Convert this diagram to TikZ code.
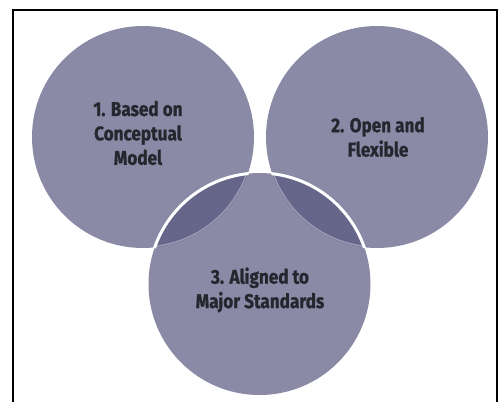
\documentclass[tikz,border=0pt]{standalone}
\usepackage{fontspec}
\newfontfamily\lblfont[FakeStretch=0.86,BoldFeatures={FakeBold=0.8}]{Fira Sans}
\definecolor{circfill}{HTML}{8A89A6}
\definecolor{lensfill}{HTML}{66658A}
\definecolor{lensedge}{HTML}{9A99B4}
\definecolor{txt}{HTML}{26262E}
\begin{document}
\begin{tikzpicture}[x=1bp,y=-1bp,
  lbl/.style={font=\lblfont\bfseries\fontsize{20}{24.5}\selectfont, text=txt, align=center, inner sep=0pt}]
\useasboundingbox (0,0) rectangle (501,401);
\begin{scope}
\clip (0,0) rectangle (501,401);
\draw[line width=1.3bp, black] (13,10) rectangle (497,420);
\end{scope}
% circles
\fill[circfill] (143,137) circle (111);
\fill[circfill] (377,137) circle (111);
\fill[circfill] (259.5,284) circle (111);
% lenses
\begin{scope}
\clip (259.5,284) circle (111);
\fill[lensfill] (143,137) circle (111);
\fill[lensfill] (377,137) circle (111);
\draw[lensedge, line width=1.5bp] (143,137) circle (110);
\draw[lensedge, line width=1.5bp] (377,137) circle (110);
\end{scope}
% white rim of circle 3 inside circles 1 and 2
\begin{scope}
\clip (143,137) circle (112);
\draw[white, line width=3bp] (259.5,284) circle (111);
\end{scope}
\begin{scope}
\clip (377,137) circle (112);
\draw[white, line width=3bp] (259.5,284) circle (111);
\end{scope}
% labels
\node[lbl] (t1) at (138,133) {1. Based on\\Conceptual\\Model};
\node[lbl] (t2) at (378,137) {2. Open and\\Flexible};
\node[lbl] (t3) at (260,290) {3. Aligned to\\Major Standards};
\end{tikzpicture}
\end{document}
